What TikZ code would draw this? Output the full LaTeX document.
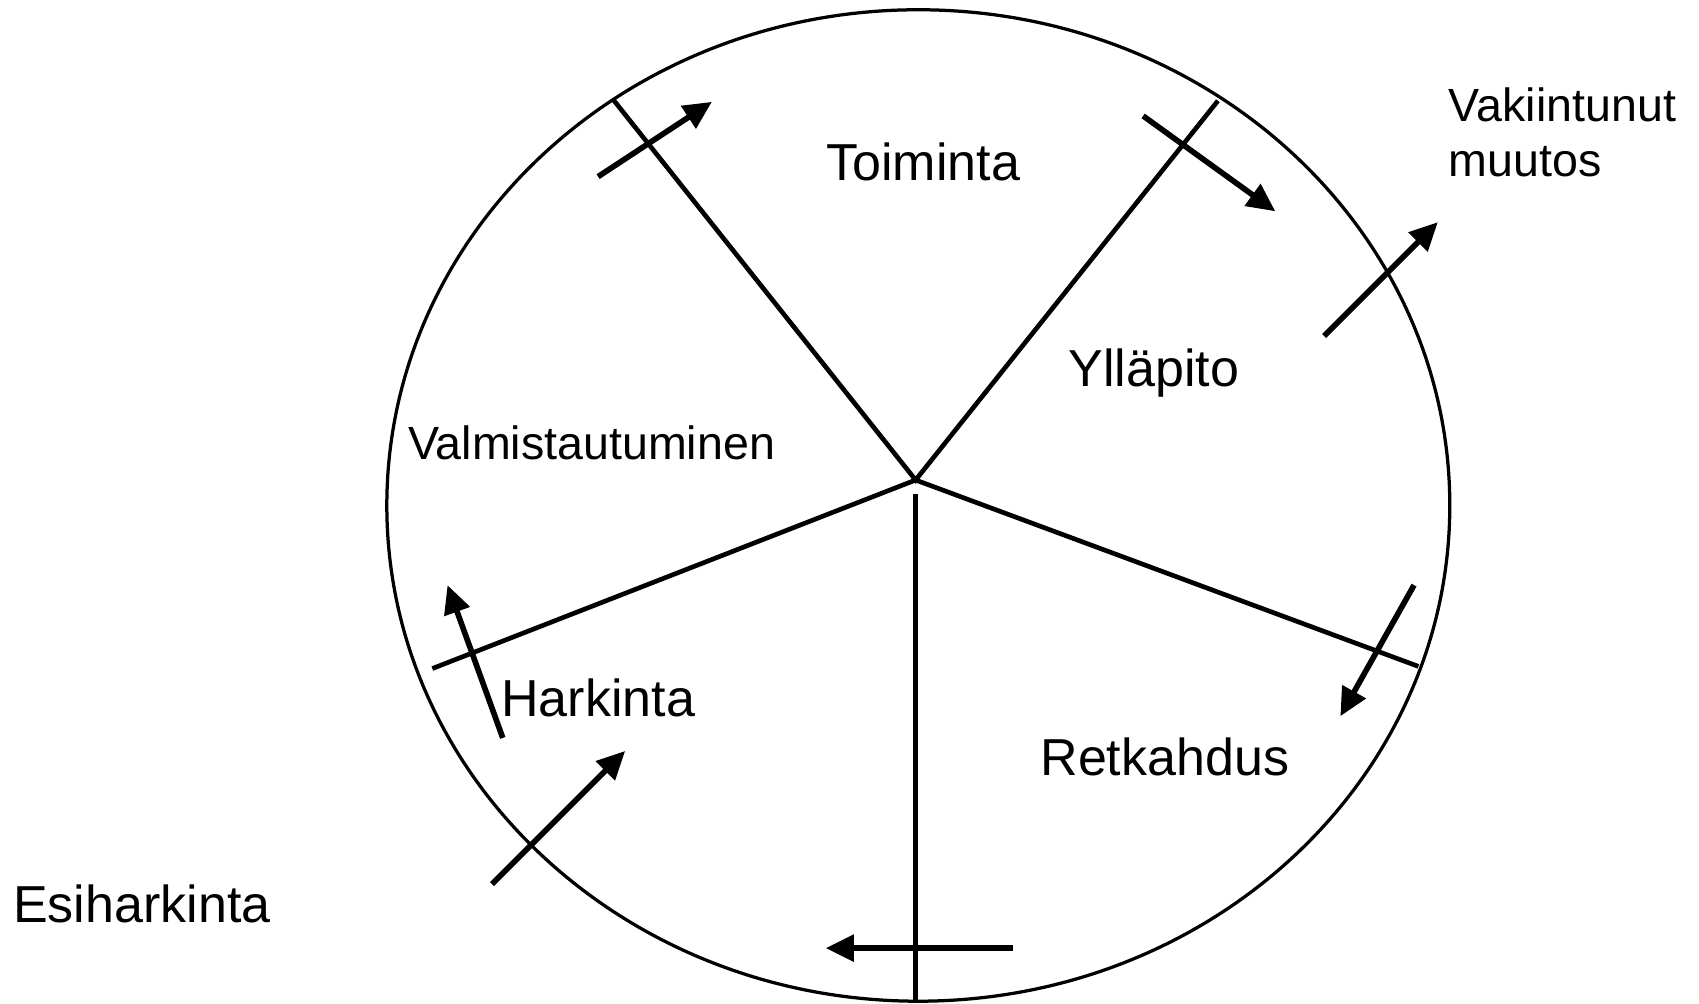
\documentclass[tikz,border=0pt]{standalone}
\usepackage{fontspec}
\setmainfont{Liberation Sans}
\usetikzlibrary{arrows.meta}
\begin{document}
\begin{tikzpicture}[x=1pt,y=-1pt,
  spoke/.style={line width=4.3pt},
  rim/.style={line width=3pt},
  flow/.style={line width=5.2pt,-{Triangle[length=26pt,width=24pt]}},
  big/.style={font=\fontsize{48}{58}\selectfont,inner sep=0pt},
  small/.style={font=\fontsize{43}{51}\selectfont,inner sep=0pt}]
\useasboundingbox (0,0) rectangle (1568,926);
% circle
\draw[rim] (847.5,466.5) ellipse [x radius=490.5, y radius=457.5];
% hub and spoke ends
\coordinate (hub) at (845,443);
\coordinate (sUL) at (566,92);
\coordinate (sUR) at (1124,93);
\coordinate (sR) at (1309,615);
\coordinate (sL) at (399,617);
\coordinate (sBt) at (845,456);
\coordinate (sBb) at (845,926);
\draw[spoke] (sUL) -- (hub) -- (sUR);
\draw[spoke] (sL) -- (hub) -- (sR);
\draw[spoke] (sBt) -- (sBb);
% arrows
\coordinate (a1s) at (552,163); \coordinate (a1e) at (657,94);
\coordinate (a2s) at (1055,107); \coordinate (a2e) at (1177,195);
\coordinate (a3s) at (1222,310); \coordinate (a3e) at (1327,205);
\coordinate (a4s) at (1305,540); \coordinate (a4e) at (1237,661);
\coordinate (a5s) at (935,875); \coordinate (a5e) at (762,875);
\coordinate (a6s) at (454,816); \coordinate (a6e) at (577,693);
\coordinate (a7s) at (464,681); \coordinate (a7e) at (413,540);
\draw[flow] (a1s) -- (a1e);
\draw[flow] (a2s) -- (a2e);
\draw[flow] (a3s) -- (a3e);
\draw[flow] (a4s) -- (a4e);
\draw[flow] (a5s) -- (a5e);
\draw[flow] (a6s) -- (a6e);
\draw[flow] (a7s) -- (a7e);
% labels
\node[big,anchor=base] (toim) at (852,167) {Toiminta};
\node[big,anchor=base] (yll) at (1065,357) {Ylläpito};
\node[small,anchor=base] (valm) at (546,424) {Valmistautuminen};
\node[big,anchor=base] (hark) at (552,661) {Harkinta};
\node[big,anchor=base] (retk) at (1075,716) {Retkahdus};
\node[big,anchor=base west] (esih) at (12,851) {Esiharkinta};
\node[small,anchor=base west,align=left] (vaki) at (1337,163) {Vakiintunut\\muutos};
\end{tikzpicture}
\end{document}
